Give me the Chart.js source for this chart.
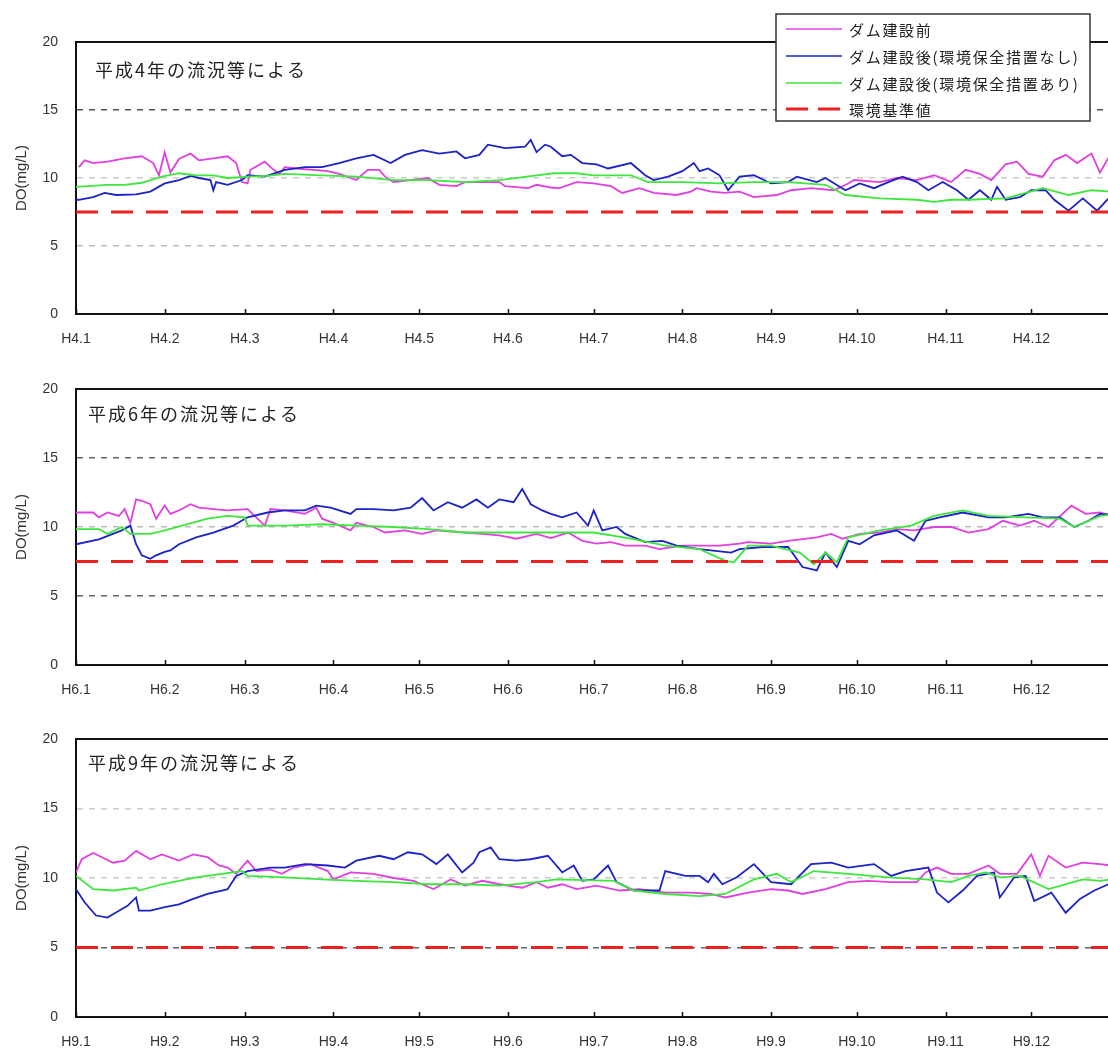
<!DOCTYPE html>
<html><head><meta charset="utf-8">
<script src="https://cdn.jsdelivr.net/npm/chart.js@4.4.1/dist/chart.umd.min.js"></script>
<style>
html,body{margin:0;padding:0;background:#fff;overflow:hidden;width:1108px;height:1052px;}
.panel{position:absolute;left:0;}
</style></head><body>
<div class="panel" style="top:0"><canvas id="c0" width="1120" height="350"></canvas></div>
<div class="panel" style="top:350px"><canvas id="c1" width="1120" height="350"></canvas></div>
<div class="panel" style="top:700px"><canvas id="c2" width="1120" height="352"></canvas></div>
<script>
// ---------- data ----------
const monthDays = [0,31,59,90,120,151,181,212,243,273,304,334];
const monthNums = ['1','2','3','4','5','6','7','8','9','10','11','12'];
const eraYears = ['H4','H6','H9'];
const panelTitles = ['平成4年の流況等による','平成6年の流況等による','平成9年の流況等による'];
const yTicks = [0,5,10,15,20];
const seriesLabels = ['ダム建設前','ダム建設後(環境保全措置なし)','ダム建設後(環境保全措置あり)','環境基準値'];
const standardValues = [7.5, 7.5, 5];

// [day of year, DO mg/L]
const h4Pre = [[1,10.8],[3,11.3],[6,11.1],[11,11.2],[17,11.45],[23,11.6],[27,11.1],[29,10.2],[31,11.9],[33,10.4],[36,11.4],[40,11.8],[43,11.3],[48,11.45],[53,11.6],[56,11.1],[58,9.7],[60,9.6],[61,10.6],[66,11.2],[68,10.8],[71,10.3],[73,10.8],[77,10.7],[83,10.6],[88,10.5],[92,10.3],[98,9.85],[102,10.6],[106,10.6],[108,10.1],[111,9.7],[117,9.85],[123,10.0],[127,9.5],[133,9.4],[136,9.7],[142,9.7],[148,9.7],[150,9.4],[158,9.25],[161,9.5],[166,9.3],[169,9.25],[175,9.7],[181,9.6],[187,9.4],[191,8.9],[197,9.25],[202,8.9],[210,8.75],[215,9.0],[217,9.25],[222,9.0],[227,8.9],[232,9.0],[237,8.6],[245,8.75],[250,9.1],[257,9.25],[265,9.1],[270,9.6],[272,9.85],[281,9.7],[287,10.0],[294,9.85],[300,10.2],[306,9.7],[311,10.6],[316,10.3],[320,9.85],[325,11.0],[329,11.2],[333,10.3],[338,10.1],[342,11.3],[346,11.7],[350,11.1],[355,11.8],[358,10.4],[361,11.5],[365,10.8]];
const h4Post = [[0,8.4],[1,8.4],[6,8.6],[10,8.9],[14,8.75],[21,8.8],[26,9.0],[31,9.6],[36,9.85],[40,10.15],[43,10.0],[47,9.85],[48,9.1],[49,9.7],[53,9.5],[58,9.85],[60,10.2],[66,10.1],[73,10.6],[80,10.8],[86,10.8],[92,11.1],[98,11.45],[104,11.7],[110,11.1],[115,11.7],[121,12.05],[127,11.8],[133,11.95],[136,11.45],[141,11.7],[144,12.45],[150,12.2],[157,12.3],[159,12.8],[161,11.9],[164,12.45],[166,12.3],[170,11.6],[173,11.7],[177,11.1],[182,11.0],[186,10.7],[194,11.1],[199,10.2],[202,9.85],[207,10.1],[212,10.5],[216,11.1],[218,10.5],[221,10.7],[225,10.2],[228,9.1],[232,10.1],[237,10.2],[243,9.6],[249,9.7],[252,10.1],[259,9.7],[262,10.0],[269,9.1],[274,9.6],[279,9.25],[284,9.7],[289,10.1],[294,9.7],[298,9.1],[303,9.7],[308,9.1],[312,8.4],[316,9.1],[320,8.4],[322,9.35],[325,8.4],[330,8.6],[334,9.1],[339,9.1],[342,8.4],[347,7.6],[352,8.5],[357,7.6],[361,8.5]];
const h4Mit = [[0,9.35],[11,9.5],[17,9.5],[23,9.65],[30,10.1],[36,10.35],[42,10.2],[48,10.2],[53,10.0],[60,10.1],[67,10.15],[73,10.3],[86,10.2],[98,10.1],[111,9.85],[123,9.85],[136,9.7],[148,9.85],[161,10.2],[167,10.35],[175,10.35],[181,10.2],[194,10.2],[200,9.7],[212,9.7],[225,9.6],[237,9.7],[249,9.7],[262,9.5],[269,8.75],[281,8.5],[294,8.4],[300,8.25],[306,8.4],[312,8.4],[325,8.5],[338,9.25],[347,8.75],[355,9.1],[362,9.0]];

const h6Pre = [[0,11.05],[6,11.05],[8,10.7],[11,11.05],[15,10.8],[17,11.3],[19,10.3],[21,12.0],[23,11.9],[26,11.65],[28,10.6],[31,11.55],[33,10.95],[36,11.2],[40,11.65],[43,11.4],[48,11.3],[53,11.2],[60,11.3],[63,10.7],[66,10.1],[68,11.3],[73,11.2],[80,10.95],[84,11.4],[86,10.6],[90,10.3],[96,9.75],[98,10.3],[104,10.0],[108,9.6],[115,9.75],[121,9.5],[126,9.75],[136,9.6],[142,9.5],[148,9.4],[154,9.15],[161,9.5],[166,9.2],[172,9.6],[177,9.0],[182,8.8],[187,8.9],[192,8.65],[199,8.65],[204,8.4],[212,8.65],[225,8.65],[232,8.8],[235,8.9],[243,8.8],[249,9.0],[259,9.25],[264,9.5],[268,9.15],[274,9.5],[281,9.6],[287,9.85],[293,9.75],[300,10.0],[306,10.0],[312,9.6],[319,9.85],[324,10.45],[330,10.1],[335,10.45],[340,10.0],[348,11.55],[353,10.95],[358,11.05],[362,10.8]];
const h6Post = [[0,8.75],[8,9.1],[16,9.75],[19,10.1],[21,8.75],[23,7.95],[26,7.7],[28,7.95],[31,8.2],[33,8.3],[36,8.75],[42,9.25],[48,9.6],[55,10.1],[60,10.7],[67,11.05],[73,11.2],[80,11.2],[84,11.55],[89,11.4],[96,10.95],[98,11.3],[104,11.3],[111,11.2],[117,11.4],[121,12.1],[125,11.2],[130,11.8],[135,11.4],[140,12.0],[144,11.4],[148,12.0],[153,11.8],[156,12.75],[159,11.65],[163,11.2],[166,10.95],[170,10.7],[175,11.05],[179,10.1],[181,11.2],[184,9.75],[189,10.0],[192,9.5],[199,8.9],[205,9.0],[210,8.65],[218,8.4],[229,8.15],[232,8.4],[240,8.55],[249,8.55],[254,7.1],[259,6.85],[262,8.15],[266,7.1],[270,9.0],[274,8.75],[279,9.4],[287,9.75],[293,9.0],[297,10.45],[302,10.7],[310,11.05],[319,10.7],[325,10.7],[333,10.95],[338,10.7],[344,10.7],[349,10.0],[354,10.45],[358,10.95],[362,10.9]];
const h6Mit = [[0,9.85],[8,9.85],[11,9.5],[16,10.0],[19,9.5],[26,9.5],[31,9.75],[39,10.2],[46,10.6],[53,10.8],[59,10.7],[60,10.1],[73,10.1],[86,10.2],[98,10.1],[111,10.0],[123,9.85],[136,9.6],[148,9.6],[161,9.6],[181,9.6],[194,9.15],[206,8.65],[218,8.4],[227,7.55],[230,7.45],[235,8.65],[243,8.65],[253,8.15],[258,7.3],[262,8.15],[266,7.45],[270,9.25],[281,9.75],[292,10.1],[300,10.8],[310,11.2],[319,10.8],[332,10.7],[344,10.6],[349,10.0],[358,10.8],[362,10.9]];

const h9Pre = [[0,10.4],[2,11.35],[6,11.8],[8,11.6],[13,11.1],[17,11.25],[21,11.95],[26,11.35],[30,11.7],[36,11.25],[41,11.7],[46,11.5],[50,10.9],[53,10.75],[56,10.3],[60,11.25],[63,10.5],[68,10.6],[72,10.3],[76,10.75],[82,11.0],[88,10.5],[90,9.9],[96,10.4],[104,10.3],[111,10.0],[118,9.8],[125,9.2],[131,9.9],[136,9.45],[142,9.8],[148,9.55],[156,9.3],[161,9.7],[165,9.3],[170,9.55],[175,9.2],[182,9.45],[190,9.1],[197,9.2],[206,8.95],[215,8.95],[222,8.85],[227,8.6],[235,8.95],[243,9.2],[249,9.1],[254,8.85],[262,9.2],[270,9.7],[277,9.8],[285,9.7],[294,9.7],[297,10.4],[301,10.75],[306,10.3],[312,10.3],[319,10.9],[323,10.3],[329,10.3],[334,11.7],[337,10.15],[340,11.6],[346,10.75],[352,11.1],[358,11.0],[362,10.9]];
const h9Post = [[0,9.2],[3,8.25],[7,7.3],[11,7.15],[15,7.65],[18,8.0],[21,8.6],[22,7.65],[26,7.65],[31,7.9],[36,8.1],[41,8.5],[46,8.85],[51,9.1],[53,9.2],[56,10.15],[60,10.5],[68,10.75],[73,10.75],[80,11.0],[88,10.9],[94,10.75],[98,11.25],[106,11.6],[111,11.35],[116,11.85],[121,11.7],[126,11.0],[130,11.7],[135,10.4],[139,11.1],[141,11.85],[145,12.2],[148,11.35],[154,11.25],[159,11.35],[165,11.6],[170,10.4],[174,10.9],[177,9.8],[181,9.9],[186,10.9],[189,9.7],[195,9.1],[204,9.1],[206,10.5],[213,10.15],[218,10.15],[221,9.7],[223,10.3],[226,9.55],[231,10.05],[237,11.0],[243,9.7],[250,9.55],[257,11.0],[264,11.1],[270,10.75],[279,11.0],[285,10.15],[290,10.5],[298,10.75],[301,8.95],[305,8.25],[310,9.1],[315,10.15],[321,10.4],[323,8.6],[328,10.05],[332,10.15],[335,8.35],[341,8.95],[346,7.5],[351,8.5],[356,9.1],[361,9.55]];
const h9Mit = [[0,10.15],[6,9.2],[13,9.1],[21,9.3],[22,9.1],[30,9.55],[42,10.05],[51,10.3],[58,10.5],[60,10.15],[73,10.05],[86,9.9],[98,9.8],[111,9.7],[123,9.55],[136,9.55],[148,9.45],[161,9.7],[168,9.9],[188,9.8],[195,9.1],[206,8.85],[218,8.7],[227,8.85],[237,9.9],[245,10.3],[250,9.7],[258,10.5],[270,10.3],[284,10.05],[297,9.9],[306,9.7],[312,10.15],[318,10.4],[323,10.05],[330,10.15],[340,9.2],[352,9.9],[358,9.8],[362,9.9]];

const panelSeries = [[h4Pre,h4Post,h4Mit],[h6Pre,h6Post,h6Mit],[h9Pre,h9Post,h9Mit]];

// ---------- styles ----------
const lineColors = ['#e040e0','#1c22c4','#3ee63e','#ee2020'];
const gridColors = [
  {5:'#bdbdbd',10:'#cccccc',15:'#555555'},
  {5:'#666666',10:'#bbbbbb',15:'#666666'},
  {5:'#666666',10:'#cccccc',15:'#cccccc'}
];
const layoutTops = [42,39,39];
const xAxisHeights = [36,35,35];
const titleOffsets = [[19,28],[12,25],[12,24]];
const NUM_FONT = "'Liberation Sans', Arial, sans-serif";
const JP_FONT = "'Noto Sans CJK JP', 'Noto Sans', sans-serif";

const decoPlugin = {
  id: 'deco',
  afterDatasetsDraw(chart, args, opts) {
    const {ctx, chartArea: a, scales: {x}} = chart;
    ctx.save();
    // top frame line
    ctx.strokeStyle = '#111'; ctx.lineWidth = 2; ctx.setLineDash([]);
    ctx.beginPath(); ctx.moveTo(a.left, a.top); ctx.lineTo(a.right + 10, a.top); ctx.stroke();
    // inner ticks on bottom axis
    ctx.lineWidth = 1.5;
    monthDays.forEach(d => {
      const px = Math.round(x.getPixelForValue(d)) + 0.5;
      ctx.beginPath(); ctx.moveTo(px, a.bottom); ctx.lineTo(px, a.bottom - 5); ctx.stroke();
    });
    // panel title
    ctx.fillStyle = '#222';
    ctx.font = "18px " + JP_FONT;
    ctx.textBaseline = 'middle'; ctx.textAlign = 'left';
    ctx.letterSpacing = '2px';
    ctx.fillText(opts.title, a.left + opts.tx, a.top + opts.ty);
    ctx.letterSpacing = '0px';
    // legend (first panel only)
    if (opts.legend) {
      const bx = 776, by = 14, bw = 314, bh = 107;
      ctx.fillStyle = '#fff'; ctx.fillRect(bx, by, bw, bh);
      ctx.strokeStyle = '#333'; ctx.lineWidth = 1.5; ctx.strokeRect(bx, by, bw, bh);
      const rows = [29, 56, 83, 109];
      chart.data.datasets.forEach((ds, i) => {
        const y = rows[i];
        ctx.strokeStyle = ds.borderColor;
        ctx.lineWidth = ds.borderDash ? 3 : 1.6;
        ctx.setLineDash(ds.borderDash ? [22, 10] : []);
        ctx.beginPath(); ctx.moveTo(786, y); ctx.lineTo(842, y); ctx.stroke();
        ctx.setLineDash([]);
        ctx.fillStyle = '#222';
        ctx.font = "15px " + JP_FONT;
        ctx.letterSpacing = '1.7px';
        ctx.fillText(ds.label, 849, y + 1);
        ctx.letterSpacing = '0px';
      });
    }
    ctx.restore();
  }
};

function makeChart(p) {
  const series = panelSeries[p];
  const datasets = series.map((s, i) => ({
    label: seriesLabels[i],
    data: s.map(([d, v]) => ({x: d, y: v})),
    borderColor: lineColors[i],
    borderWidth: 1.8,
    pointRadius: 0,
    tension: 0,
    order: 3 - i
  }));
  datasets.push({
    label: seriesLabels[3],
    data: [{x: 0, y: standardValues[p]}, {x: 365, y: standardValues[p]}],
    borderColor: lineColors[3],
    borderWidth: 3,
    borderDash: [22, 13],
    pointRadius: 0,
    order: 0
  });
  new Chart(document.getElementById('c' + p), {
    type: 'line',
    data: {datasets},
    plugins: [decoPlugin],
    options: {
      responsive: false,
      animation: false,
      devicePixelRatio: 1,
      layout: {padding: {top: layoutTops[p], left: 0, right: 0, bottom: 0}},
      plugins: {
        legend: {display: false},
        tooltip: {enabled: false},
        deco: {title: panelTitles[p], tx: titleOffsets[p][0], ty: titleOffsets[p][1], legend: p === 0}
      },
      scales: {
        x: {
          type: 'linear', min: 0, max: 365,
          afterBuildTicks: s => { s.ticks = monthDays.map(v => ({value: v})); },
          afterFit: s => { s.height = xAxisHeights[p]; },
          ticks: {
            autoSkip: false, maxRotation: 0, padding: 17,
            color: '#333', font: {family: NUM_FONT, size: 14},
            callback: (v, i) => eraYears[p] + '.' + monthNums[i]
          },
          grid: {display: false, drawTicks: false},
          border: {display: true, color: '#111', width: 2}
        },
        y: {
          min: 0, max: 20,
          afterBuildTicks: s => { s.ticks = yTicks.map(v => ({value: v})); },
          afterFit: s => { s.width = 76; },
          ticks: {padding: 18, color: '#333', font: {family: NUM_FONT, size: 14}},
          grid: {
            drawTicks: false,
            lineWidth: 1.5,
            color: c => gridColors[p][c.tick && c.tick.value] || 'rgba(0,0,0,0)'
          },
          border: {display: true, color: '#111', width: 2, dash: [6, 6]},
          title: {display: true, text: 'DO(mg/L)', color: '#333', font: {family: NUM_FONT, size: 15}, padding: {top: 13, bottom: 0}}
        }
      }
    }
  });
}
[0, 1, 2].forEach(makeChart);
</script>
</body></html>
